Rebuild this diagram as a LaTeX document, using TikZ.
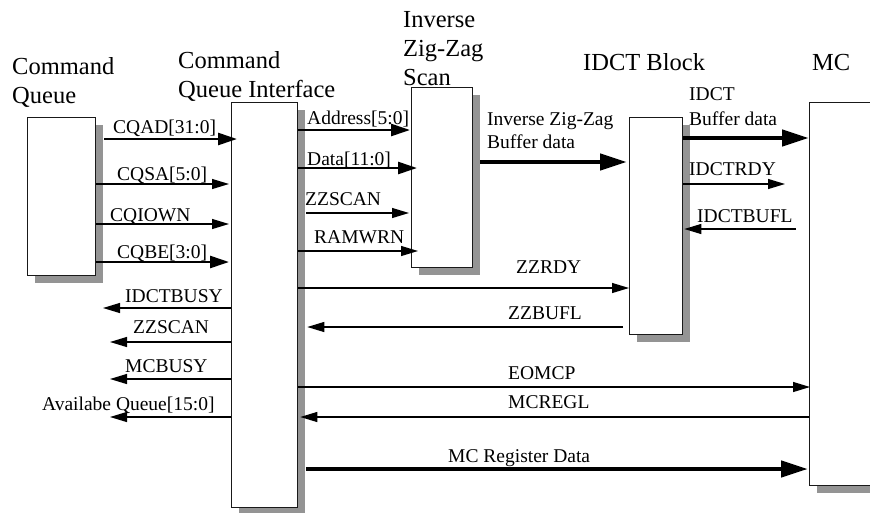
\documentclass[tikz,border=0pt]{standalone}
\usepackage{fontspec}
\setmainfont{Liberation Serif}
\usetikzlibrary{arrows.meta,shadows}
\begin{document}
\begin{tikzpicture}[x=1pt,y=-1pt,
  box/.style={draw=black!90,line width=1.3pt,fill=white,inner sep=0pt,anchor=north west,
     drop shadow={shadow xshift=7pt,shadow yshift=-7pt,fill=black!42,opacity=1}},
  title/.style={inner sep=0pt,anchor=base west,align=left,font=\fontsize{24.5}{29}\selectfont},
  lbl/.style={inner sep=0pt,anchor=base west,align=left,font=\fontsize{19.5}{23}\selectfont},
  sig/.style={line width=1.2pt,-{Triangle[length=17pt,width=10pt]}},
  bus/.style={line width=2.6pt,-{Triangle[length=19pt,width=12pt]}},
  dbus/.style={line width=4.5pt,-{Triangle[length=27pt,width=16pt]}}
]
\useasboundingbox (0,0) rectangle (870,512);
\clip (0,0) rectangle (870,512);

% titles (base anchor = baseline of last line)
\node[title] (tcq) at (12,103) {Command\\Queue};
\node[title] (tcqi) at (178,97) {Command\\Queue Interface};
\node[title] (tizz) at (403,85) {Inverse\\Zig-Zag\\Scan};
\node[title] (tidct) at (583,70) {IDCT Block};
\node[title] (tmc) at (812,70) {MC};

% blocks
\node[box,minimum width=68pt,minimum height=158pt] (cq) at (27,117) {};
\node[box,minimum width=66pt,minimum height=405pt] (cqi) at (231,102) {};
\node[box,minimum width=61pt,minimum height=180pt] (izz) at (411,87) {};
\node[box,minimum width=53pt,minimum height=217pt] (idct) at (629,117) {};
\node[box,minimum width=90pt,minimum height=383pt] (mc) at (809,102) {};

% Command Queue -> CQ Interface
\draw[bus] ([xshift=8pt]cq.east |- 0,139) -- ([xshift=6pt]cqi.west |- 0,139);
\node[lbl] (l1) at (113,133) {CQAD[31:0]};
\draw[sig] (cq.east |- 0,184) -- ([xshift=-2pt]cqi.west |- 0,184);
\node[lbl] (l2) at (117,180) {CQSA[5:0]};
\draw[sig] (cq.east |- 0,224) -- ([xshift=-2pt]cqi.west |- 0,224);
\node[lbl] (l3) at (110,221) {CQIOWN};
\draw[bus] (cq.east |- 0,262) -- ([xshift=-2pt]cqi.west |- 0,262);
\node[lbl] (l4) at (117,258) {CQBE[3:0]};

% CQ Interface -> Inverse Zig-Zag
\draw[bus] (cqi.east |- 0,130) -- ([xshift=-1pt]izz.west |- 0,130);
\node[lbl] (l5) at (307,124) {Address[5:0]};
\draw[bus] (cqi.east |- 0,168) -- ([xshift=6pt]izz.west |- 0,168);
\node[lbl] (l6) at (307,165) {Data[11:0]};
\draw[sig] ([xshift=8pt]cqi.east |- 0,213) -- ([xshift=-2pt]izz.west |- 0,213);
\node[lbl] (l7) at (305,205) {ZZSCAN};
\draw[sig] (cqi.east |- 0,251) -- ([xshift=7pt]izz.west |- 0,251);
\node[lbl] (l8) at (314,243) {RAMWRN};

% Inverse Zig-Zag -> IDCT
\draw[dbus] ([xshift=7pt]izz.east |- 0,162) -- ([xshift=-2pt]idct.west |- 0,162);
\node[lbl] (l9) at (487,148) {Inverse Zig-Zag\\Buffer data};

% CQ Interface <-> IDCT
\draw[sig] (cqi.east |- 0,288) -- (idct.west |- 0,288);
\node[lbl] (l10) at (516,273) {ZZRDY};
\draw[sig] ([xshift=-6pt]idct.west |- 0,327) -- ([xshift=9pt]cqi.east |- 0,327);
\node[lbl] (l11) at (508,319) {ZZBUFL};

% IDCT -> MC
\draw[dbus] (idct.east |- 0,138) -- (mc.west |- 0,138);
\node[lbl,font=\fontsize{19.5}{25}\selectfont] (l12) at (689,125) {IDCT\\Buffer data};
\coordinate (rdyend) at (785,184);
\draw[sig] (idct.east |- rdyend) -- (rdyend);
\node[lbl] (l13) at (689,175) {IDCTRDY};
\coordinate (buflstart) at (796,229);
\draw[sig] (buflstart) -- ([xshift=1pt]idct.east |- buflstart);
\node[lbl] (l14) at (697,222) {IDCTBUFL};

% CQ Interface <-> MC
\draw[sig] (cqi.east |- 0,387) -- ([xshift=1pt]mc.west |- 0,387);
\node[lbl] (l15) at (508,379) {EOMCP};
\draw[sig] (mc.west |- 0,417) -- ([xshift=2pt]cqi.east |- 0,417);
\node[lbl] (l16) at (508,408) {MCREGL};
\draw[dbus] ([xshift=8pt]cqi.east |- 0,469) -- ([xshift=-1pt]mc.west |- 0,469);
\node[lbl] (l17) at (448,462) {MC Register Data};

% CQ Interface outputs
\coordinate (o1) at (103,308);
\coordinate (o2) at (110,342);
\coordinate (o3) at (110,379);
\coordinate (o4) at (110,417);
\draw[sig] (cqi.west |- o1) -- (o1);
\node[lbl] (l18) at (125,302) {IDCTBUSY};
\draw[sig] (cqi.west |- o2) -- (o2);
\node[lbl] (l19) at (133,333) {ZZSCAN};
\draw[sig] (cqi.west |- o3) -- (o3);
\node[lbl] (l20) at (125,372) {MCBUSY};
\draw[sig] (cqi.west |- o4) -- (o4);
\node[lbl] (l21) at (42,410) {Availabe Queue[15:0]};
\end{tikzpicture}
\end{document}
